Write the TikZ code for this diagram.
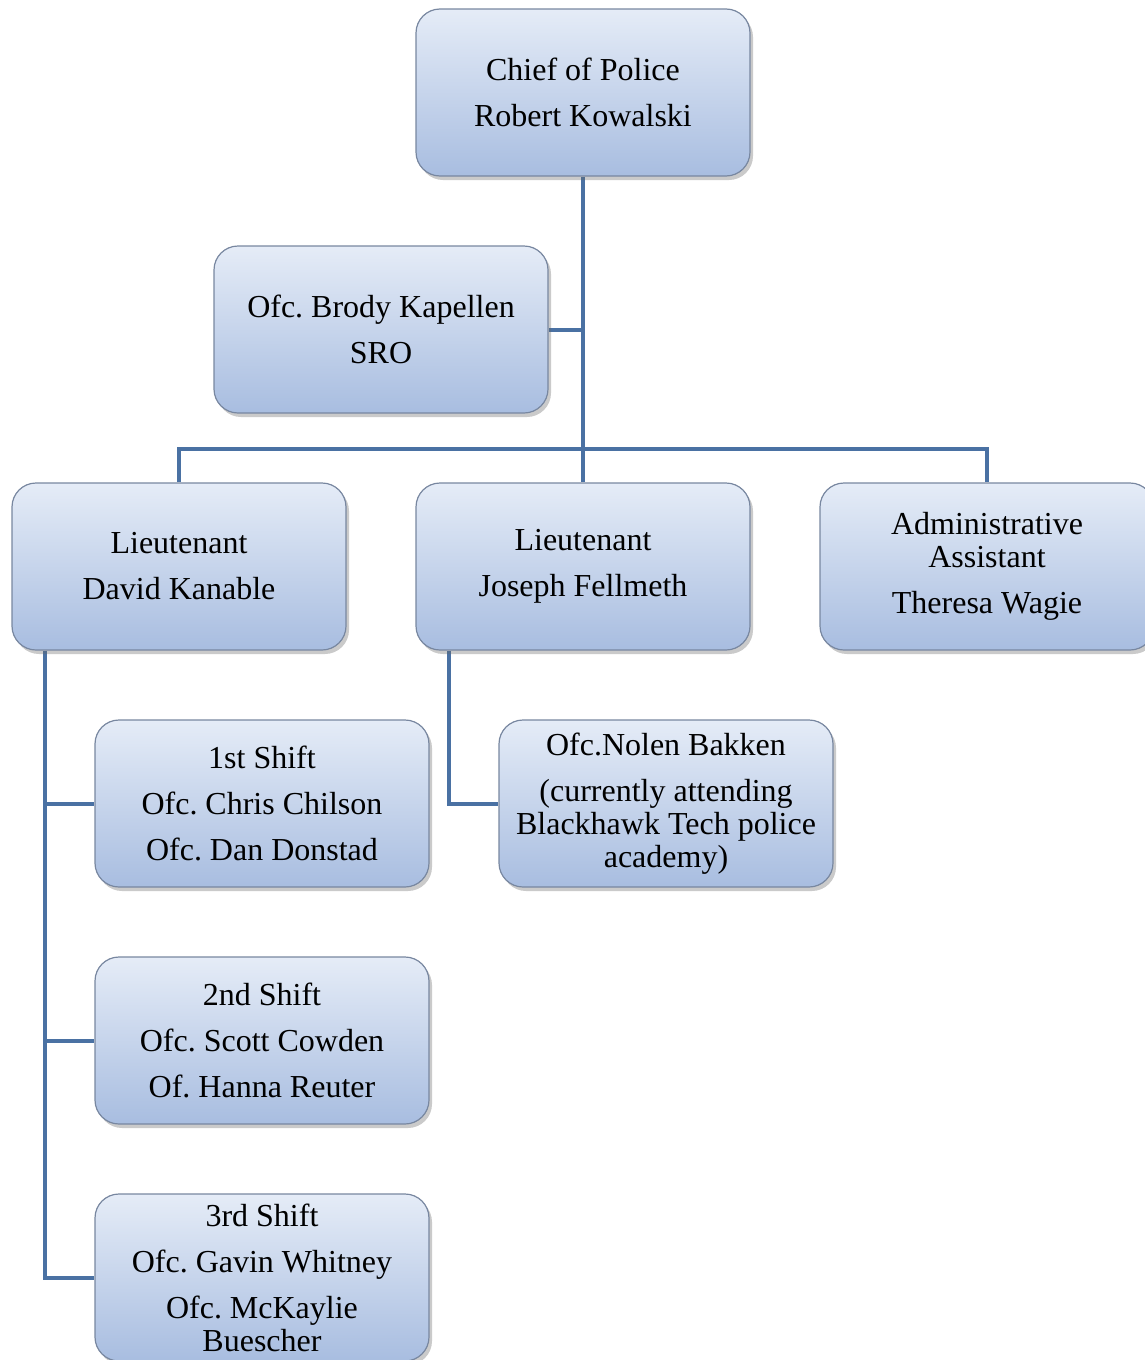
\documentclass[tikz,border=0pt]{standalone}
\usepackage{fontspec}
\setmainfont{Liberation Serif}
\usetikzlibrary{shadows,backgrounds}
\definecolor{linkblue}{RGB}{74,113,163}
\definecolor{boxtop}{RGB}{229,236,247}
\definecolor{boxbot}{RGB}{168,189,224}
\definecolor{boxedge}{RGB}{120,135,160}
\frenchspacing
\begin{document}
\begin{tikzpicture}[x=1pt,y=-1pt,
  orgbox/.style={draw=boxedge, line width=1.2pt, rounded corners=24pt,
    minimum width=334pt, minimum height=167pt, inner sep=0pt,
    top color=boxtop, bottom color=boxbot, align=center,
    font=\fontsize{32}{33}\selectfont,
    drop shadow={shadow xshift=3pt, shadow yshift=-4pt, opacity=0.35, fill=black!60}},
  link/.style={draw=linkblue, line width=4pt}]
\useasboundingbox (0,0) rectangle (1145,1360);
\clip (0,0) rectangle (1145,1360);
% connector helper coordinates
\coordinate (busL) at (179,449);
\coordinate (busR) at (987,449);
\coordinate (sroJ) at (583,329.5);
\coordinate (kanTop) at (45,650);
\coordinate (kan1) at (45,803.5);
\coordinate (kan2) at (45,1040.5);
\coordinate (kan3) at (45,1277.5);
\coordinate (felTop) at (449,650);
\coordinate (fel1) at (449,803.5);
% nodes
\node[orgbox] (chief) at (583,92.5) {Chief of Police\\[13pt]Robert Kowalski};
\node[orgbox] (sro) at (381,329.5) {Ofc. Brody Kapellen\\[13pt]SRO};
\node[orgbox] (kan) at (179,566.5) {Lieutenant\\[13pt]David Kanable};
\node[orgbox] (fel) at (583,566.5) {Lieutenant\\[13pt]Joseph Fellmeth};
\node[orgbox] (adm) at (987,566.5) {Administrative\\Assistant\\[13pt]Theresa Wagie};
\node[orgbox] (s1) at (262,803.5) {1st Shift\\[13pt]Ofc. Chris Chilson\\[13pt]Ofc. Dan Donstad};
\node[orgbox] (nolen) at (666,803.5) {Ofc.Nolen Bakken\\[13pt](currently attending\\Blackhawk Tech police\\academy)};
\node[orgbox] (s2) at (262,1040.5) {2nd Shift\\[13pt]Ofc. Scott Cowden\\[13pt]Of. Hanna Reuter};
\node[orgbox] (s3) at (262,1277.5) {3rd Shift\\[13pt]Ofc. Gavin Whitney\\[13pt]Ofc. McKaylie\\Buescher};
% connectors (behind boxes)
\begin{scope}[on background layer]
\draw[link] (chief.south) -- (fel.north);
\draw[link] (sro.east) -- (sroJ);
\draw[link] (kan.north) -- (busL) -- (busR) -- (adm.north);
\draw[link] (kan.south -| kanTop) -- (kan3) -- (s3.west);
\draw[link] (kan1) -- (s1.west);
\draw[link] (kan2) -- (s2.west);
\draw[link] (fel.south -| felTop) -- (fel1) -- (nolen.west);
\end{scope}
\end{tikzpicture}
\end{document}
